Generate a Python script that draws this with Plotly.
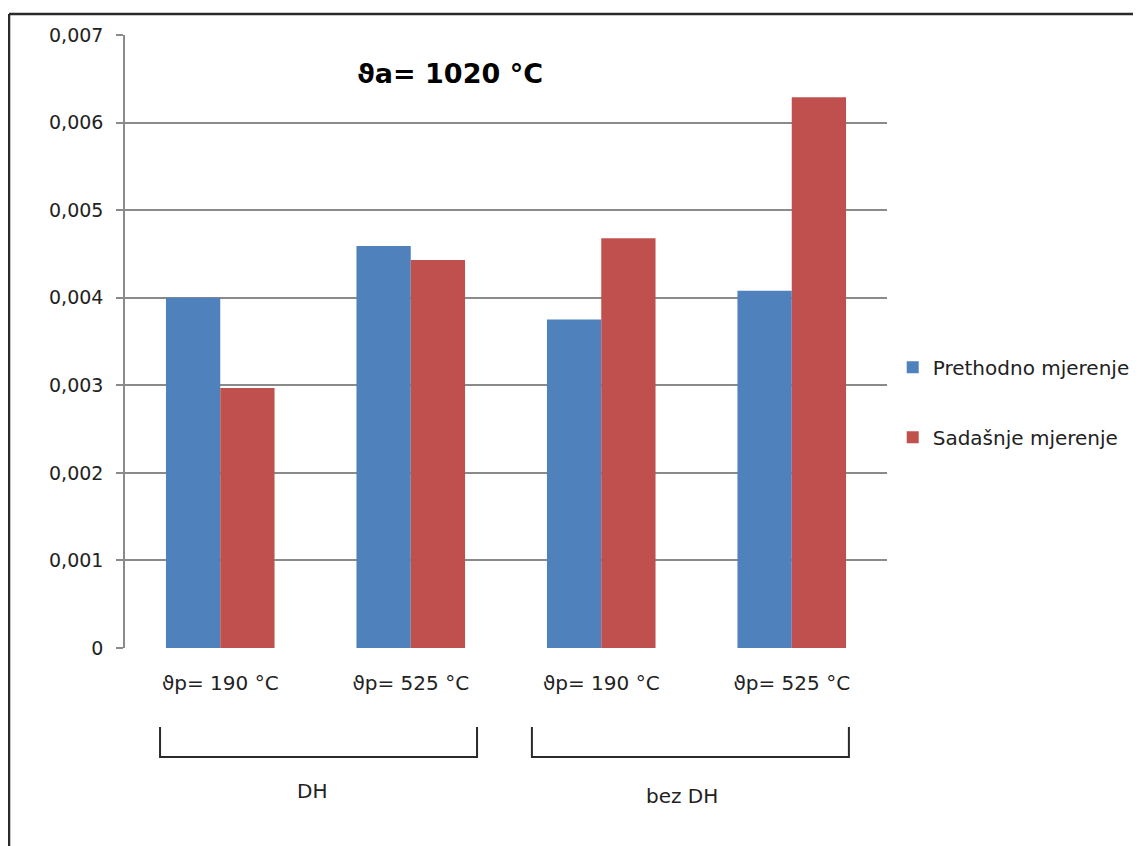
import plotly.graph_objects as go

categories = ["DH / 190", "DH / 525", "bez DH / 190", "bez DH / 525"]
cat_labels = ["ϑp= 190 °C", "ϑp= 525 °C", "ϑp= 190 °C", "ϑp= 525 °C"]
prethodno = [0.00400, 0.00459, 0.00375, 0.00408]
sadasnje = [0.00297, 0.00443, 0.00468, 0.00629]
series_names = ["Prethodno mjerenje", "Sadašnje mjerenje"]
y_tickvals = [0, 0.001, 0.002, 0.003, 0.004, 0.005, 0.006, 0.007]
y_ticktext = ["0", "0,001", "0,002", "0,003", "0,004", "0,005", "0,006", "0,007"]
group_names = ["DH", "bez DH"]
title_text = "ϑa= 1020 °C"

FONT = "DejaVu Sans"
BLUE = "#4F81BD"
RED = "#C0504D"
GRID = "#8a8a8a"

x_idx = list(range(len(categories)))

fig = go.Figure()
fig.add_trace(go.Bar(x=x_idx, y=prethodno, name=series_names[0],
                     marker=dict(color=BLUE, line=dict(width=0)), legendgroup="a"))
fig.add_trace(go.Bar(x=x_idx, y=sadasnje, name=series_names[1],
                     marker=dict(color=RED, line=dict(width=0)), legendgroup="b"))

shapes = []
# outer frame (left and top)
shapes.append(dict(type="line", xref="paper", yref="paper", x0=-0.1522, x1=-0.1522,
                   y0=-0.4, y1=1.0343, line=dict(color="#2a2a2a", width=2.5)))
shapes.append(dict(type="line", xref="paper", yref="paper", x0=-0.1522, x1=1.5,
                   y0=1.0343, y1=1.0343, line=dict(color="#2a2a2a", width=2.5)))

# group brackets
brackets = [(x_idx[0] - 0.316, x_idx[1] + 0.348), (x_idx[2] - 0.364, x_idx[3] + 0.30)]
yb_top, yb_bot = -0.129, -0.178
for (a, b) in brackets:
    shapes.append(dict(type="path", xref="x", yref="paper",
                       path=f"M {a},{yb_top} L {a},{yb_bot} L {b},{yb_bot} L {b},{yb_top}",
                       line=dict(color="#2a2a2a", width=2)))

annotations = [
    dict(text=f"<b>{title_text}</b>", xref="paper", yref="paper", x=0.426, y=0.937,
         xanchor="center", yanchor="middle",
         showarrow=False, font=dict(family=FONT, size=27, color="#000000")),
    dict(text=group_names[0], xref="x", yref="paper", x=0.48, y=-0.233,
         xanchor="center", yanchor="middle",
         showarrow=False, font=dict(family=FONT, size=20, color="#222222")),
    dict(text=group_names[1], xref="x", yref="paper", x=2.424, y=-0.241,
         xanchor="center", yanchor="middle",
         showarrow=False, font=dict(family=FONT, size=20, color="#222222")),
]

fig.update_layout(
    width=1133, height=838,
    margin=dict(l=117, r=254, t=27, b=198, pad=0, autoexpand=False),
    paper_bgcolor="white", plot_bgcolor="white",
    barmode="group", bargap=0.43, bargroupgap=0,
    font=dict(family=FONT, size=20, color="#222222"),
    showlegend=True,
    legend=dict(x=1.0075, y=0.49, xanchor="left", yanchor="top",
                tracegroupgap=41, font=dict(family=FONT, size=20, color="#222222"),
                bgcolor="rgba(0,0,0,0)"),
    xaxis=dict(tickmode="array", tickvals=x_idx, ticktext=cat_labels,
               range=[-0.5, 3.5], showgrid=False, zeroline=False, showline=False,
               ticks="", ticklabelstandoff=21, fixedrange=True, automargin=False),
    yaxis=dict(range=[0, 0.007], tickmode="array", tickvals=y_tickvals, ticktext=y_ticktext,
               showgrid=True, gridcolor=GRID, gridwidth=1.5, zeroline=False,
               showline=True, linecolor=GRID, linewidth=1.5,
               ticks="outside", ticklen=7, tickcolor=GRID, tickwidth=1.5,
               ticklabelstandoff=9, tickfont=dict(size=19), fixedrange=True,
               automargin=False),
    shapes=shapes, annotations=annotations,
)

fig.write_html("out.html")
